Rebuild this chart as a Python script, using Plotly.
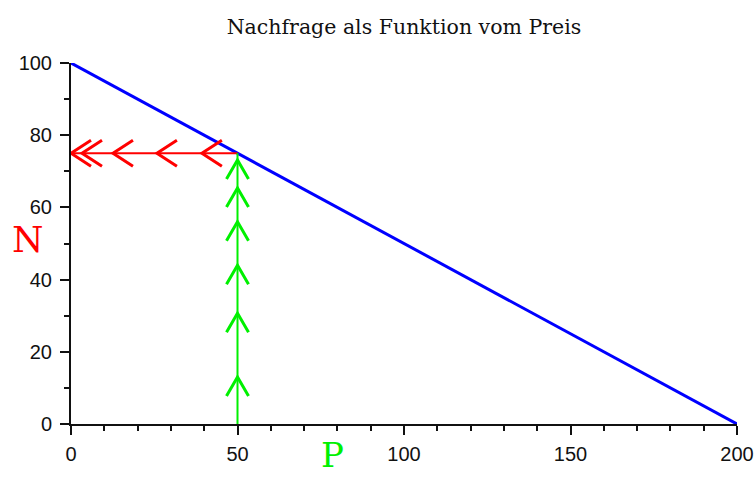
import plotly.graph_objects as go

# Demand line: N as a function of P
price = [0, 200]
demand = [100, 0]

# Reading example: at P = 50 the demand is N = 75
p_read = 50
n_read = 75

# positions of hand-drawn arrow heads
red_arrow_x = [0, 3.3, 12.6, 25.8, 39.3]              # pointing left along N = 75
green_arrow_y = [13.0, 30.7, 44.0, 56.0, 65.4, 73.1]  # pointing up along P = 50

x_ticks = [0, 50, 100, 150, 200]
y_ticks = [0, 20, 40, 60, 80, 100]

title_text = "Nachfrage als Funktion vom Preis"
x_label = "P"
y_label = "N"

RED = "#ff0000"
GREEN = "#00f000"
BLUE = "#0000ff"
INK = "#111111"

fig = go.Figure()

fig.add_trace(go.Scatter(x=price, y=demand, mode="lines",
                         line=dict(color=BLUE, width=3), cliponaxis=False,
                         hoverinfo="skip"))
fig.add_trace(go.Scatter(x=[0, p_read], y=[n_read, n_read], mode="lines",
                         line=dict(color=RED, width=2), hoverinfo="skip"))
fig.add_trace(go.Scatter(x=[p_read, p_read], y=[0, n_read], mode="lines",
                         line=dict(color=GREEN, width=2), hoverinfo="skip"))

shapes = []
for xa in red_arrow_x:
    shapes.append(dict(type="path", xref="x", yref="y",
                       xsizemode="pixel", ysizemode="pixel",
                       xanchor=xa, yanchor=n_read,
                       path="M20,13 L0,0 L20,-13",
                       line=dict(color=RED, width=3)))
for ya in green_arrow_y:
    shapes.append(dict(type="path", xref="x", yref="y",
                       xsizemode="pixel", ysizemode="pixel",
                       xanchor=p_read, yanchor=ya,
                       path="M-11,-19 L0,0 L11,-19",
                       line=dict(color=GREEN, width=3)))

tickfont = dict(family="Liberation Sans, Arial, sans-serif", size=20, color=INK)

minor = dict(dtick=10, ticks="outside", ticklen=5, tickwidth=2,
             tickcolor=INK, showgrid=False)

fig.update_layout(
    width=755, height=484,
    margin=dict(l=71, r=18, t=63, b=60),
    paper_bgcolor="white", plot_bgcolor="white",
    showlegend=False,
    shapes=shapes,
    title=dict(text=title_text, x=0.5, xref="paper", xanchor="center",
               y=0.944, yanchor="middle", automargin=False,
               font=dict(family="DejaVu Serif, serif", size=20.5, color=INK)),
    xaxis=dict(range=[0, 200], tickvals=x_ticks, showgrid=False, zeroline=False,
               automargin=False,
               showline=True, linecolor=INK, linewidth=2,
               ticks="outside", ticklen=9, tickwidth=2, tickcolor=INK,
               tickfont=tickfont, ticklabelstandoff=2, minor=minor),
    yaxis=dict(range=[0, 100], tickvals=y_ticks, showgrid=False, zeroline=False,
               automargin=False,
               showline=True, linecolor=INK, linewidth=2,
               ticks="outside", ticklen=9, tickwidth=2, tickcolor=INK,
               tickfont=tickfont, ticklabelstandoff=4, minor=minor),
    annotations=[
        dict(text=y_label, xref="paper", yref="paper", x=-0.065, y=0.51,
             xanchor="center", yanchor="middle", showarrow=False,
             font=dict(family="DejaVu Serif, serif", size=36, color=RED)),
        dict(text=x_label, xref="paper", yref="paper", x=0.392, y=-0.086,
             xanchor="center", yanchor="middle", showarrow=False,
             font=dict(family="DejaVu Serif, serif", size=34, color=GREEN)),
    ],
)

fig.write_html("out.html",
               config={"displayModeBar": False},
               post_script="document.body.style.margin='0';"
                           "document.body.style.overflow='hidden';")
